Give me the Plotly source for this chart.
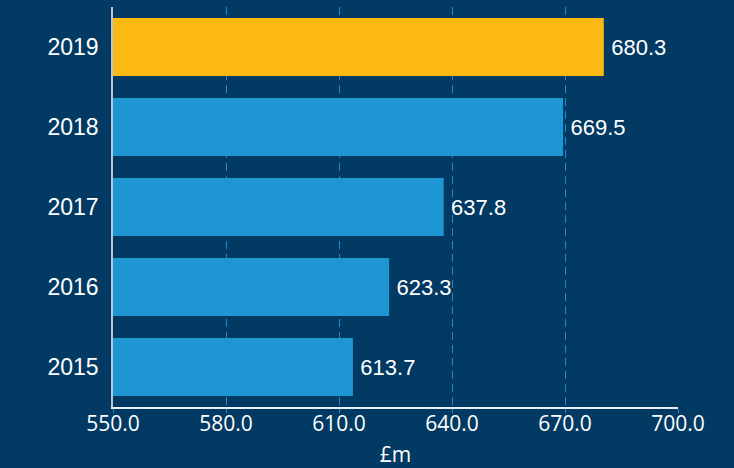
import plotly.graph_objects as go

years = ["2015", "2016", "2017", "2018", "2019"]
values = [613.7, 623.3, 637.8, 669.5, 680.3]
bar_colors = ["#1e96d4", "#1e96d4", "#1e96d4", "#1e96d4", "#fdb913"]
x_ticks = [550, 580, 610, 640, 670, 700]
AXIS_MIN = 550

BG = "#023a63"
GRID = "#1e88c8"

fig = go.Figure(
    go.Bar(
        x=[v - AXIS_MIN for v in values],
        y=years,
        base=AXIS_MIN,
        orientation="h",
        marker=dict(color=bar_colors, line=dict(width=0)),
        width=0.725,
        text=[f"\u2009{v:.1f}" for v in values],
        textposition="outside",
        textfont=dict(family="Liberation Sans, Arial, sans-serif", size=22, color="white"),
        cliponaxis=False,
        hoverinfo="skip",
    )
)

fig.update_layout(
    width=734,
    height=468,
    paper_bgcolor=BG,
    plot_bgcolor=BG,
    margin=dict(l=113, r=56, t=7, b=61),
    showlegend=False,
    xaxis=dict(
        range=[550, 700],
        automargin=False,
        tickvals=x_ticks,
        ticktext=[f"{t:.1f}" for t in x_ticks],
        tickfont=dict(family="Open Sans, sans-serif", size=21, color="white"),
        showgrid=True,
        gridcolor=GRID,
        griddash="8px,5px",
        gridwidth=1,
        showline=True,
        linecolor="#e8eef4",
        linewidth=1.5,
        zeroline=False,
        ticks="outside",
        ticklen=4,
        tickcolor=GRID,
        tickwidth=1,
        ticklabelstandoff=-7,
        title=dict(text="£m", font=dict(family="Open Sans, sans-serif", size=21, color="white"), standoff=14),
    ),
    yaxis=dict(
        categoryorder="array",
        categoryarray=years,
        range=[-0.5, 4.5],
        automargin=False,
        tickfont=dict(family="Liberation Sans, Arial, sans-serif", size=23, color="white"),
        showline=True,
        linecolor="#b8c6d4",
        linewidth=1.5,
        showgrid=False,
        ticks="",
        ticklabelstandoff=8,
    ),
)

fig.write_html("out.html")
